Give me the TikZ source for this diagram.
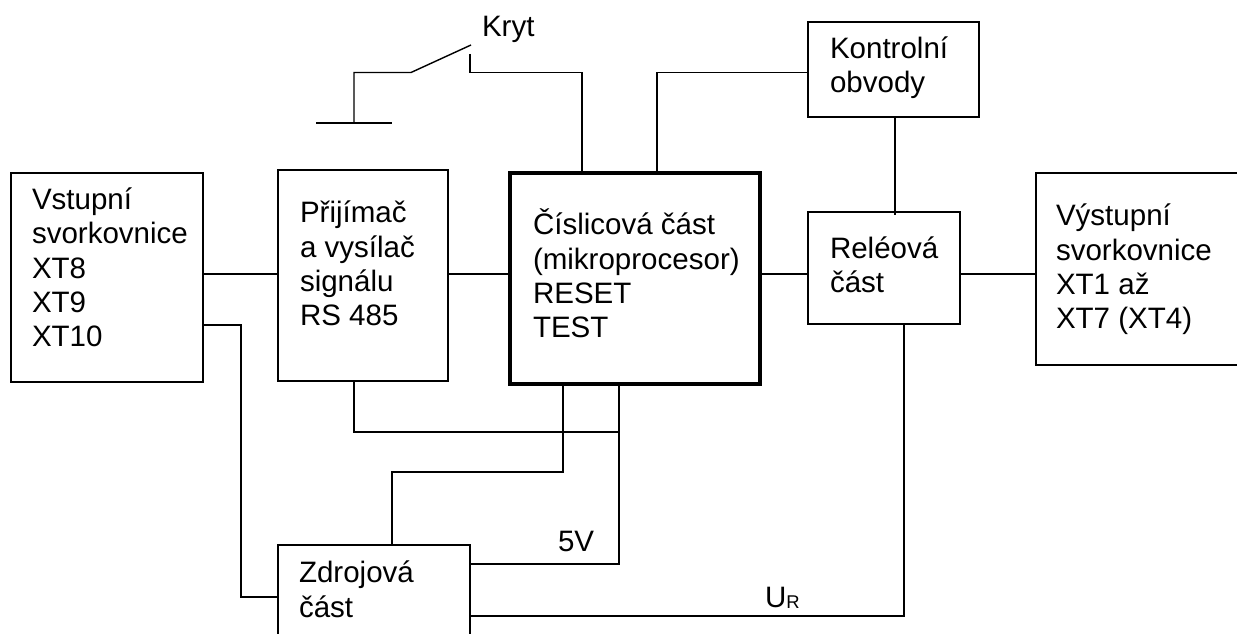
\documentclass[tikz,border=0pt]{standalone}
\usepackage{fontspec}
\setmainfont{Liberation Sans}
\usetikzlibrary{positioning,calc}

\begin{document}
\begin{tikzpicture}[
  line width=0.8pt,
  font=\fontsize{16.8}{19.6}\selectfont,
  blok/.style={draw=black, line width=0.8pt, anchor=north west, inner sep=0pt, outer sep=0pt},
  popis/.style={anchor=base west, align=left, inner sep=0pt, outer sep=0pt}
]
\useasboundingbox (0,0) rectangle (24.74,-12.68);
\clip (0,0) rectangle (24.74,-12.68);
\coordinate (linka) at (0,-5.48);

\node[blok, minimum width=3.84cm, minimum height=4.18cm] (vstup) at (0.22,-3.46) {};
\node[blok, minimum width=3.40cm, minimum height=4.22cm] (prijimac) at (5.56,-3.40) {};
\node[blok, line width=2.1pt, minimum width=5.00cm, minimum height=4.22cm] (cislo) at (10.20,-3.46) {};
\node[blok, minimum width=3.04cm, minimum height=2.24cm] (rele) at (16.16,-4.24) {};
\node[blok, minimum width=3.42cm, minimum height=1.90cm] (kontrola) at (16.16,-0.44) {};
\node[blok, minimum width=5.00cm, minimum height=3.84cm] (vystup) at (20.72,-3.46) {};
\node[blok, minimum width=3.84cm, minimum height=3.00cm] (zdroj) at (5.56,-10.90) {};

\node[popis] (vstuptxt) at (0.64,-6.94) {Vstupní\\svorkovnice\\XT8\\XT9\\XT10};
\node[popis] (prijimactxt) at (6.00,-6.52) {Přijímač\\a vysílač\\signálu\\RS 485};
\node[popis] (cislotxt) at (10.66,-6.76) {Číslicová část\\(mikroprocesor)\\RESET\\TEST};
\node[popis] (reletxt) at (16.60,-5.86) {Reléová\\část};
\node[popis] (kontrolatxt) at (16.60,-1.86) {Kontrolní\\obvody};
\node[popis] (vystuptxt) at (21.12,-6.58) {Výstupní\\svorkovnice\\XT1 až\\XT7 (XT4)};
\node[popis] (zdrojtxt) at (5.98,-12.34) {Zdrojová\\část};
\node[popis] (kryt) at (9.64,-0.74) {Kryt};
\node[popis] (petv) at (11.16,-11.02) {5V};
\node[popis] (ur) at (15.30,-12.14) {U\raisebox{-0.8pt}{\fontsize{10.5}{10.5}\selectfont R}};

% vodorovne spoje
\draw (vstup.east |- linka) -- (prijimac.west |- linka);
\draw (prijimac.east |- linka) -- (cislo.west |- linka);
\draw (cislo.east |- linka) -- (rele.west |- linka);
\draw (rele.east |- linka) -- (vystup.west |- linka);

\coordinate (xt) at (0,-6.50);
\draw (vstup.east |- xt) -- (4.82,-6.50) |- (zdroj.west |- 0,-11.94);
\draw (prijimac.south -| 7.08,0) |- (12.38,-8.64);
\draw (cislo.south -| 12.38,0) |- (zdroj.east |- 0,-11.28);
\draw (cislo.south -| 11.26,0) |- (7.84,-9.44) -- (zdroj.north -| 7.84,0);
\draw (zdroj.east |- 0,-12.32) -| (rele.south -| 18.08,0);
\draw (kontrola.south -| 17.90,0) -- ($(rele.north -| 17.90,0)+(0,-0.06)$);
\draw (cislo.north -| 13.14,0) |- (kontrola.west |- 0,-1.45);

% spinac krytu
\coordinate (zem) at (7.08,-2.46);
\coordinate (kontakt) at (9.40,-1.08);
\draw (6.32,-2.46) -- (7.84,-2.46);
\draw (zem) |- (8.22,-1.45) -- (9.42,-0.90);
\draw (kontakt) |- (11.64,-1.45) -- (cislo.north -| 11.64,0);
\end{tikzpicture}
\end{document}
